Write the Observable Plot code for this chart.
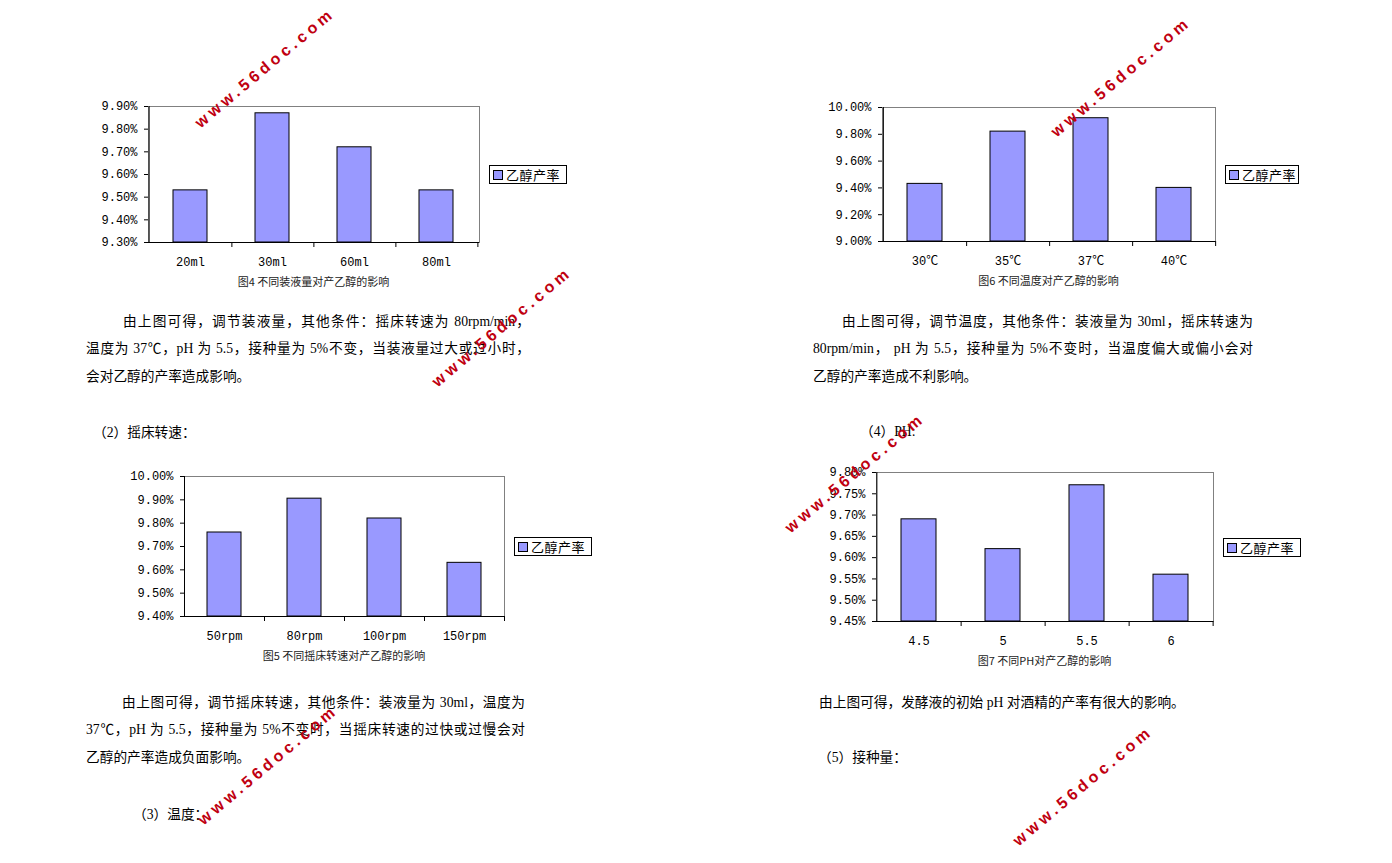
<!DOCTYPE html>
<html><head><meta charset="utf-8">
<script src="https://cdn.jsdelivr.net/npm/d3@7"></script>
<script src="https://cdn.jsdelivr.net/npm/@observablehq/plot@0.6"></script>
<style>
html,body{margin:0;padding:0;background:#fff;}
#page{position:relative;width:1392px;height:863px;overflow:hidden;background:#fff;}
.para{position:absolute;white-space:nowrap;font-family:"Liberation Serif","Noto Sans CJK SC",serif;font-size:13.7px;line-height:20px;height:20px;color:#000;}
.just{text-align:justify;text-align-last:justify;}
.cap{position:absolute;transform:translate(-50%,-50%);font-family:"Noto Sans CJK SC",sans-serif;font-size:11px;color:#222;white-space:nowrap;}
.legend{position:absolute;border:1px solid #000;box-sizing:border-box;font-family:"Noto Sans CJK SC",sans-serif;font-size:13px;letter-spacing:0.5px;display:flex;align-items:center;background:#fff;white-space:nowrap;overflow:hidden;}
.sw{width:8px;height:8px;border:1px solid #000;background:#9999ff;margin:0 3px 0 3px;flex:none;}
.wm{position:absolute;transform:translate(-50%,-50%) rotate(-40deg);font-family:"Liberation Sans",Arial,sans-serif;font-weight:bold;font-size:16px;letter-spacing:4px;color:#c00010;white-space:nowrap;z-index:10;}
</style></head><body><div id="page"></div><script>
// ---- data ----
const volumeCats = ["20ml", "30ml", "60ml", "80ml"];
const volumeYield = [9.53, 9.87, 9.72, 9.53];
const volumeTicks = [9.3, 9.4, 9.5, 9.6, 9.7, 9.8, 9.9];

const tempCats = ["30℃", "35℃", "37℃", "40℃"];
const tempYield = [9.43, 9.82, 9.92, 9.40];
const tempTicks = [9.0, 9.2, 9.4, 9.6, 9.8, 10.0];

const speedCats = ["50rpm", "80rpm", "100rpm", "150rpm"];
const speedYield = [9.76, 9.905, 9.82, 9.63];
const speedTicks = [9.4, 9.5, 9.6, 9.7, 9.8, 9.9, 10.0];

const phCats = ["4.5", "5", "5.5", "6"];
const phYield = [9.69, 9.62, 9.77, 9.56];
const phTicks = [9.45, 9.5, 9.55, 9.6, 9.65, 9.7, 9.75, 9.8];

const seriesName = "乙醇产率";
const captions = ["图4 不同装液量对产乙醇的影响", "图6 不同温度对产乙醇的影响", "图5 不同摇床转速对产乙醇的影响", "图7 不同PH对产乙醇的影响"];

const page = document.getElementById("page");

function chart(cats, vals, ticks, f, caption, lg) {
  const ml = 70, mr = 10, mt = 12, mb = 34;
  const step = f.w / cats.length;
  const p = 0.58;
  const data = cats.map((c, i) => ({c, v: vals[i]}));
  const y0 = ticks[0], yMax = ticks[ticks.length - 1];
  const svg = Plot.plot({
    width: f.w + ml + mr, height: f.h + mt + mb,
    marginLeft: ml, marginRight: mr, marginTop: mt, marginBottom: mb,
    style: {fontFamily: "'Liberation Mono', 'Noto Sans CJK SC', monospace", fontSize: "12px", background: "transparent", overflow: "visible", color: "#000"},
    x: {domain: cats, paddingInner: p, paddingOuter: p / 2, label: null},
    y: {domain: [y0, yMax], label: null},
    marks: [
      Plot.frame({stroke: "#808080"}),
      Plot.barY(data, {x: "c", y1: y0, y2: "v", fill: "#9999ff", stroke: "#000", strokeWidth: 1}),
      Plot.ruleY([y0], {stroke: "#000"}),
      Plot.ruleX([cats[0]], {dx: -step / 2, stroke: "#000"}),
      Plot.axisY({ticks, tickSize: 4, tickPadding: 7, tickFormat: d => d.toFixed(2) + "%", label: null}),
      Plot.axisX({tickSize: 0, tickPadding: 15, label: null}),
      Plot.axisX({ticks: cats, tickSize: 5, tickFormat: () => "", dx: step / 2, label: null})
    ]
  });
  svg.style.position = "absolute";
  svg.style.left = (f.x - ml) + "px";
  svg.style.top = (f.y - mt) + "px";
  page.appendChild(svg);

  const cap = document.createElement("div");
  cap.className = "cap";
  cap.textContent = caption;
  cap.style.left = (f.x + f.w / 2) + "px";
  cap.style.top = (f.y + f.h + 39) + "px";
  page.appendChild(cap);

  const leg = document.createElement("div");
  leg.className = "legend";
  leg.style.left = lg.x + "px"; leg.style.top = lg.y + "px";
  leg.style.width = lg.w + "px"; leg.style.height = "19px";
  leg.innerHTML = '<span class="sw"></span><span>' + seriesName + '</span>';
  page.appendChild(leg);
}

chart(volumeCats, volumeYield, volumeTicks, {x: 148, y: 106, w: 331, h: 136}, captions[0], {x: 489, y: 165, w: 78});
chart(tempCats, tempYield, tempTicks, {x: 882, y: 107, w: 333, h: 134}, captions[1], {x: 1225, y: 165, w: 74});
chart(speedCats, speedYield, speedTicks, {x: 184, y: 476, w: 320, h: 140}, captions[2], {x: 514, y: 537, w: 78});
chart(phCats, phYield, phTicks, {x: 876, y: 472, w: 337, h: 149}, captions[3], {x: 1223, y: 538, w: 78});

// ---- body text ----
const lines = [
  ["由上图可得，调节装液量，其他条件：摇床转速为  80rpm/min，", 123, 322, 530],
  ["温度为 37℃，pH 为 5.5，接种量为 5%不变，当装液量过大或过小时，", 86, 349, 530],
  ["会对乙醇的产率造成影响。", 86, 377, 0],
  ["（2）摇床转速：", 93, 433, 0],
  ["由上图可得，调节温度，其他条件：装液量为 30ml，摇床转速为", 842, 322, 1253],
  ["80rpm/min，  pH 为 5.5，接种量为 5%不变时，当温度偏大或偏小会对", 813, 349, 1253],
  ["乙醇的产率造成不利影响。", 813, 377, 0],
  ["（4）PH:", 860, 432, 0],
  ["由上图可得，调节摇床转速，其他条件：装液量为 30ml，温度为", 122, 703, 525],
  ["37℃，pH 为 5.5，接种量为 5%不变时，当摇床转速的过快或过慢会对", 86, 730, 525],
  ["乙醇的产率造成负面影响。", 86, 758, 0],
  ["（3）温度：", 133, 815, 0],
  ["由上图可得，发酵液的初始 pH 对酒精的产率有很大的影响。", 819, 703, 0],
  ["（5）接种量：", 818, 758, 0]
];
for (const [t, x, cy, right] of lines) {
  const d = document.createElement("div");
  d.className = "para" + (right ? " just" : "");
  d.textContent = t;
  d.style.left = x + "px";
  d.style.top = (cy - 10) + "px";
  if (right) d.style.width = (right - x) + "px";
  page.appendChild(d);
}

// ---- watermarks ----
const wmText = "www.56doc.com";
const wmPos = [[265, 68], [1121, 77], [502, 327], [855, 473], [268, 765], [1083, 786]];
for (const [x, y] of wmPos) {
  const w = document.createElement("div");
  w.className = "wm";
  w.textContent = wmText;
  w.style.left = x + "px"; w.style.top = y + "px";
  page.appendChild(w);
}
</script></body></html>
